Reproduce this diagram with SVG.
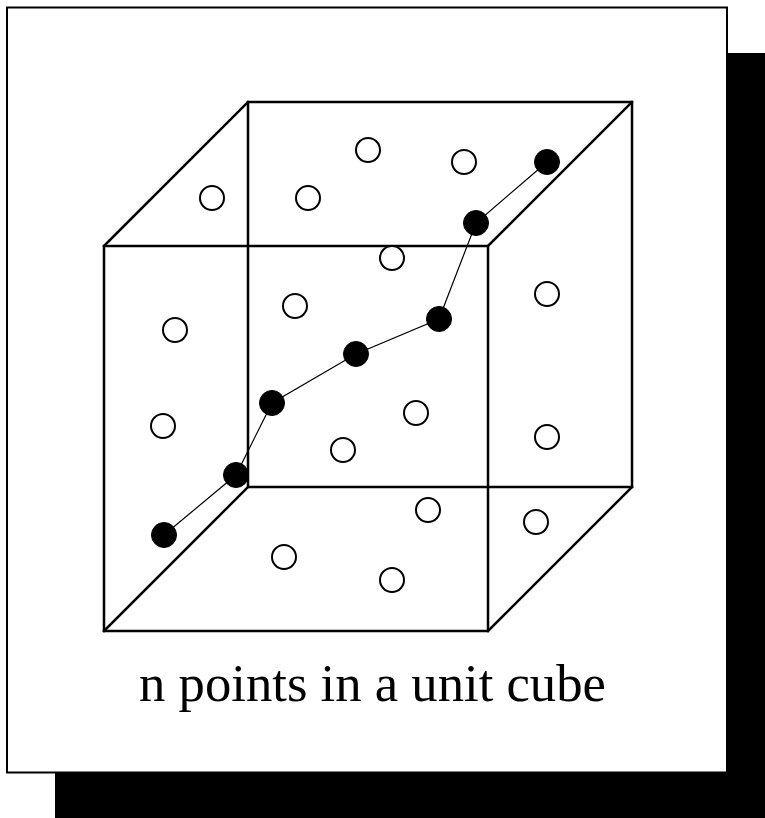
<svg xmlns="http://www.w3.org/2000/svg" width="765" height="818" viewBox="0 0 765 818">
<style>
.edge{stroke:#000;stroke-width:2.5;fill:none;stroke-linecap:square}
.open{fill:#fff;stroke:#000;stroke-width:2}
.full{fill:#000;stroke:#000;stroke-width:1}
.path{stroke:#000;stroke-width:1.2;fill:none}
.label{font-family:"Liberation Serif","Times New Roman",serif;font-size:52.7px;fill:#000}
</style>
<rect x="0" y="0" width="765" height="818" fill="#fff"/>
<rect id="shadow" x="55" y="53" width="712" height="767" fill="#000"/>
<rect id="frame" x="7" y="7.5" width="720" height="765" fill="#fff" stroke="#000" stroke-width="2"/>
<g id="cube">
<rect class="edge" x="248" y="102" width="384" height="385"/>
<rect class="edge" x="104" y="246" width="384" height="385"/>
<line class="edge" x1="104" y1="246" x2="248" y2="102"/>
<line class="edge" x1="488" y1="246" x2="632" y2="102"/>
<line class="edge" x1="104" y1="631" x2="248" y2="487"/>
<line class="edge" x1="488" y1="631" x2="632" y2="487"/>
</g>
<g id="connectors">
<polyline class="path" points="164,535 236,475 272,403 356,354 439,319 476,223 547,162"/>
</g>
<g id="open-points">
<circle id="p1" class="open" cx="212" cy="198" r="12"/>
<circle id="p2" class="open" cx="308" cy="198" r="12"/>
<circle id="p3" class="open" cx="368" cy="150" r="12"/>
<circle id="p4" class="open" cx="464" cy="162" r="12"/>
<circle id="p5" class="open" cx="392" cy="258" r="12"/>
<circle id="p6" class="open" cx="547" cy="294" r="12"/>
<circle id="p7" class="open" cx="295" cy="306" r="12"/>
<circle id="p8" class="open" cx="175" cy="330" r="12"/>
<circle id="p9" class="open" cx="163" cy="426" r="12"/>
<circle id="p10" class="open" cx="343" cy="450" r="12"/>
<circle id="p11" class="open" cx="416" cy="413" r="12"/>
<circle id="p12" class="open" cx="547" cy="437" r="12"/>
<circle id="p13" class="open" cx="428" cy="510" r="12"/>
<circle id="p14" class="open" cx="536" cy="522" r="12"/>
<circle id="p15" class="open" cx="284" cy="557" r="12"/>
<circle id="p16" class="open" cx="392" cy="580" r="12"/>
</g>
<g id="path-points">
<circle id="q1" class="full" cx="164" cy="535" r="12.5"/>
<circle id="q2" class="full" cx="236" cy="475" r="12.5"/>
<circle id="q3" class="full" cx="272" cy="403" r="12.5"/>
<circle id="q4" class="full" cx="356" cy="354" r="12.5"/>
<circle id="q5" class="full" cx="439" cy="319" r="12.5"/>
<circle id="q6" class="full" cx="476" cy="223" r="12.5"/>
<circle id="q7" class="full" cx="547" cy="162" r="12.5"/>
</g>
<text id="caption" class="label" x="372.5" y="701" text-anchor="middle">n points in a unit cube</text>
</svg>
